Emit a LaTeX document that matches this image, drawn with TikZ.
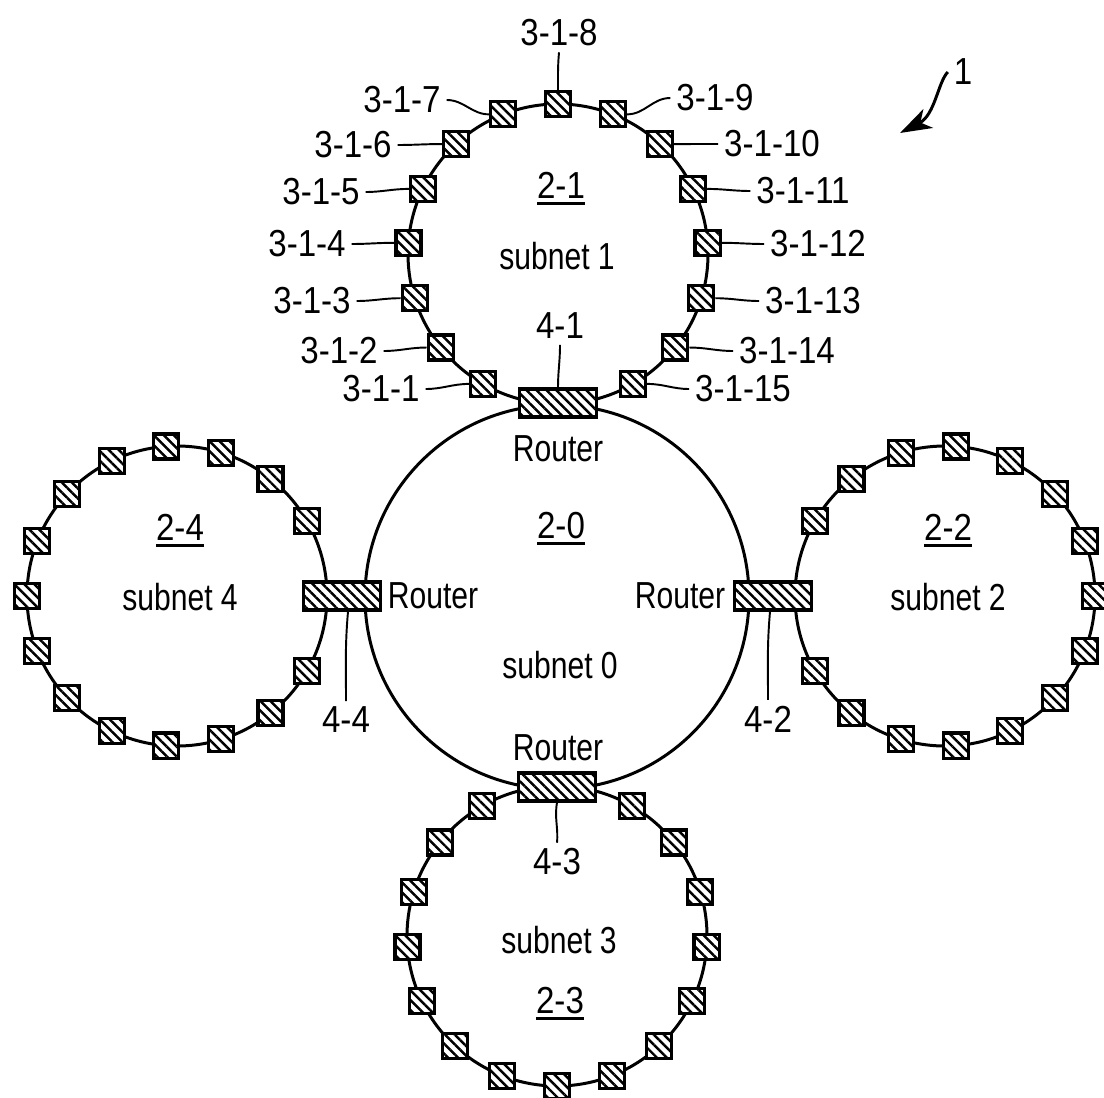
\documentclass[tikz,border=0pt]{standalone}
\usepackage{fontspec}
\setmainfont{Liberation Sans}
\newfontfamily\numfont{Liberation Sans}[FakeStretch=0.88]
\newfontfamily\wordfont{Liberation Sans}[FakeStretch=0.80]
\usetikzlibrary{arrows.meta,calc,patterns.meta}
\newcommand{\idu}[1]{\setbox0\hbox{#1}\rlap{\rule[-2pt]{\wd0}{0.8pt}}\box0}

\begin{document}
\begin{tikzpicture}[x=0.01cm,y=0.01cm,
  ring/.style={line width=0.85pt},
  term/.style={draw,line width=0.9pt,minimum size=0.25cm,inner sep=0pt,preaction={fill=white},
    pattern={Lines[angle=-45,distance=2pt,line width=0.7pt]}},
  rtr/.style={term,minimum width=0.77cm,minimum height=0.28cm},
  num/.style={font=\numfont\fontsize{10.7}{12}\selectfont,inner sep=1.5pt},
  word/.style={font=\wordfont\fontsize{10.7}{12}\selectfont,inner sep=1pt},
  lead/.style={line width=0.55pt}]
  \useasboundingbox (0,0) rectangle (1104,-1097);
  \draw[ring] (557,-597) circle (192);
  \foreach \r/\cx/\cy/\rr in {1/558/-254/270, 2/945/-596/180, 3/557/-936/90, 4/177/-596/0}{
    \draw[ring] (\cx,\cy) circle (150);
    \foreach \k in {1,...,15}
      \node[term] (t\r-\k) at ($(\cx,\cy)+({\rr-30-(\k-1)*300/14}:150)$) {};
  }
  \foreach \n/\x/\y in {1/558/-403, 2/773/-596, 3/557/-787, 4/342/-596}
    \node[rtr] (rt\n) at (\x,\y) {};
  \node[word] (wr1) at (558,-449) {Router};
  \node[word] (wr2) at (680,-596) {Router};
  \node[word] (wr3) at (558,-748) {Router};
  \node[word] (wr4) at (433,-596) {Router};
  \node[num] (lr1) at (560,-326) {4-1};
  \node[num] (lr2) at (768,-719) {4-2};
  \node[num] (lr3) at (557,-862) {4-3};
  \node[num] (lr4) at (346,-720) {4-4};
  \draw[lead] (lr1.south) to[out=-90,in=90] (rt1.north);
  \draw[lead] ($(rt2.south)+(-3,0)$) to[out=-95,in=90] (lr2.north);
  \draw[lead] (rt3.south) to[out=-100,in=85] (lr3.north);
  \draw[lead] ($(rt4.south)+(6,0)$) to[out=-95,in=90] (lr4.north);
  \node[num,anchor=base] (id0) at (561,-538) {\idu{2-0}};
  \node[num,anchor=base] (id1) at (561,-198) {\idu{2-1}};
  \node[num,anchor=base] (id2) at (948,-540) {\idu{2-2}};
  \node[num,anchor=base] (id3) at (560,-1013) {\idu{2-3}};
  \node[num,anchor=base] (id4) at (180,-540) {\idu{2-4}};
  \node[word] (sn0) at (560,-665) {subnet 0};
  \node[word] (sn1) at (557,-256) {subnet 1};
  \node[word] (sn2) at (948,-597) {subnet 2};
  \node[word] (sn3) at (559,-940) {subnet 3};
  \node[word] (sn4) at (180,-597) {subnet 4};
  \foreach \k/\x/\y in {1/381/389, 2/339/351, 3/312/301, 4/307/244, 5/321/192, 6/353/145, 7/402/100}{
    \node[num] (lt\k) at (\x,-\y) {3-1-\k};
    \draw[lead] (lt\k.east) to[out=0,in=180] (t1-\k.west);
  }
  \foreach \k/\x/\y in {9/715/98, 10/772/144, 11/803/191, 12/818/244, 13/813/301, 14/787/351, 15/743/389}{
    \node[num] (lt\k) at (\x,-\y) {3-1-\k};
    \draw[lead] (lt\k.west) to[out=180,in=0] (t1-\k.east);
  }
  \node[num] (lt8) at (559,-33) {3-1-8};
  \draw[lead] (lt8.south) to[out=-95,in=90] (t1-8.north);
  \node[num] (fig) at (963,-72) {1};
  \coordinate (figtip) at (900,-133);
  \draw[-{Stealth[length=9pt,width=6pt,inset=2.5pt]},line width=0.85pt] (fig.west) .. controls (938,-82) and (935,-115) .. (figtip);
\end{tikzpicture}
\end{document}
